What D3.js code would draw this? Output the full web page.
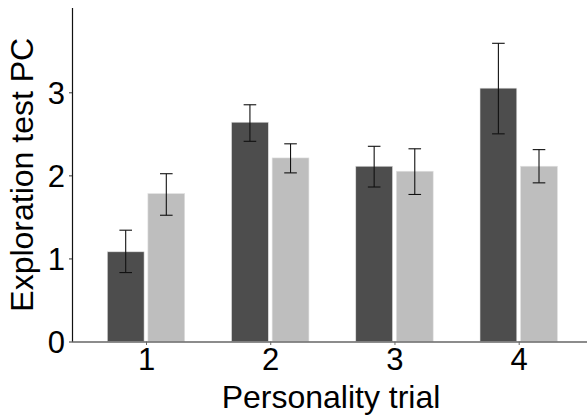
<!DOCTYPE html>
<html lang="en">
<head>
  <meta charset="UTF-8">
  <title>Exploration test PC by personality trial</title>
  <script src="https://d3js.org/d3.v7.min.js"></script>
  <style>
    body { margin: 0; background: #fff; }
    text { font-family: "Liberation Sans", Arial, sans-serif; fill: #000; }
  </style>
</head>
<body>

<div id="chart"></div>

<script>

// data
const trials = ["1", "2", "3", "4"];
const groups = ["dark", "light"];
const darkMean = [1.08, 2.64, 2.11, 3.05];
const darkLow  = [0.83, 2.41, 1.86, 2.50];
const darkHigh = [1.34, 2.85, 2.35, 3.59];
const lightMean = [1.78, 2.21, 2.05, 2.11];
const lightLow  = [1.52, 2.03, 1.77, 1.91];
const lightHigh = [2.02, 2.38, 2.32, 2.31];
const yTicks = [0, 1, 2, 3];

const margin = {top: 8, right: 0, bottom: 77.5, left: 72},
    width = 587 - margin.left - margin.right,
    height = 419 - margin.top - margin.bottom;

const fs = 31,      // tick labels
    titleFs = 32;   // axis titles

const svg = d3.select("#chart")
  .append("svg")
    .attr("width", 587)
    .attr("height", 419)
  .append("g")
    .attr("transform", `translate(${margin.left},${margin.top})`);

// rows for drawing
const rows = [];
trials.forEach((t, i) => {
  rows.push({trial: t, group: "dark", mean: darkMean[i], lo: darkLow[i], hi: darkHigh[i]});
  rows.push({trial: t, group: "light", mean: lightMean[i], lo: lightLow[i], hi: lightHigh[i]});
});

const x = d3.scalePoint()
  .domain(trials)
  .range([74, 446.7]);

const xSub = d3.scaleBand()
  .domain(groups)
  .range([-38.7, 38.7])
  .paddingInner(0.094);

const y = d3.scaleLinear()
  .domain([0, 4.015])
  .range([height, 0]);

const color = d3.scaleOrdinal()
  .domain(groups)
  .range(["#4d4d4d", "#bebebe"]);

// bars
svg.append("g")
  .selectAll("rect")
  .data(rows)
  .join("rect")
    .attr("x", d => x(d.trial) + xSub(d.group))
    .attr("y", d => y(d.mean))
    .attr("width", xSub.bandwidth())
    .attr("height", d => height - y(d.mean))
    .attr("fill", d => color(d.group))
    .attr("stroke", "#e0e0e0")
    .attr("stroke-width", 0.6);

// error bars
const capW = 6.3;
const eb = svg.append("g")
  .attr("stroke", "#111")
  .attr("stroke-width", 1.1)
  .selectAll("g")
  .data(rows)
  .join("g")
    .attr("transform", d => `translate(${x(d.trial) + xSub(d.group) + xSub.bandwidth() / 2},0)`);
eb.append("line")
  .attr("y1", d => y(d.lo))
  .attr("y2", d => y(d.hi));
eb.append("line")
  .attr("x1", -capW).attr("x2", capW)
  .attr("y1", d => y(d.hi)).attr("y2", d => y(d.hi));
eb.append("line")
  .attr("x1", -capW).attr("x2", capW)
  .attr("y1", d => y(d.lo)).attr("y2", d => y(d.lo));

// x axis
const xAxis = svg.append("g")
  .attr("transform", `translate(0,${height})`)
  .call(d3.axisBottom(x).tickSize(3.5).tickPadding(3).tickSizeOuter(0));
xAxis.select(".domain")
  .attr("d", `M0,0.5H${width}`)
  .attr("stroke", "#666")
  .attr("stroke-width", 1.3);
xAxis.selectAll(".tick line").attr("stroke", "#666");
xAxis.selectAll("text")
  .attr("font-size", fs)
  .attr("dy", "0.72em");

// y axis
const yAxis = svg.append("g")
  .call(d3.axisLeft(y).tickValues(yTicks).tickFormat(d3.format("d"))
    .tickSize(3).tickPadding(4).tickSizeOuter(0));
yAxis.select(".domain")
  .attr("d", `M0.5,${height}V0`)
  .attr("stroke", "#111")
  .attr("stroke-width", 1.2);
yAxis.selectAll(".tick line").attr("stroke", "#333");
yAxis.selectAll("text")
  .attr("font-size", fs)
  .attr("dy", "0.36em");

// axis titles
svg.append("text")
  .attr("x", 222.7 - margin.left + 108.3)
  .attr("y", height + 66.5)
  .attr("text-anchor", "middle")
  .attr("font-size", titleFs)
  .text("Personality trial");

svg.append("text")
  .attr("transform", `translate(${33 - margin.left},${height / 2}) rotate(-90)`)
  .attr("text-anchor", "middle")
  .attr("font-size", titleFs)
  .text("Exploration test PC");

</script>

</body>
</html>
